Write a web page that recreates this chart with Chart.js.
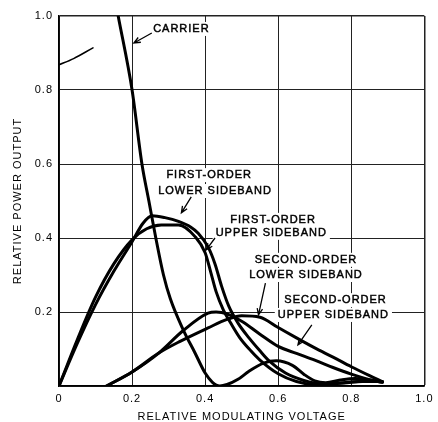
<!DOCTYPE html>
<html>
<head>
<meta charset="utf-8">
<script src="https://cdn.jsdelivr.net/npm/chart.js@4.4.0/dist/chart.umd.min.js"></script>
<style>
  html, body { margin: 0; padding: 0; background: #fff; }
  canvas { display: block; }
</style>
</head>
<body>
<canvas id="grafico" width="438" height="422"></canvas>
<script>
// valores: x = voltaje de modulacion relativo, y = potencia relativa
const carrierX = [0.162, 0.2, 0.227, 0.246, 0.265, 0.286, 0.305, 0.34, 0.372, 0.4, 0.42, 0.44, 0.46, 0.49, 0.52, 0.56, 0.595, 0.64, 0.67, 0.7, 0.73, 0.77, 0.81, 0.85, 0.885];
const carrierY = [1.0, 0.8, 0.6, 0.5, 0.4, 0.3, 0.235, 0.152, 0.09, 0.035, 0.01, 0.0, 0.004, 0.018, 0.04, 0.062, 0.068, 0.055, 0.032, 0.014, 0.009, 0.016, 0.02, 0.016, 0.01];

const firstLowerX = [0, 0.05, 0.1, 0.15, 0.2, 0.23, 0.255, 0.29, 0.327, 0.36, 0.381, 0.408, 0.427, 0.445, 0.465, 0.49, 0.52, 0.55, 0.575, 0.62, 0.67, 0.72, 0.78, 0.83, 0.885];
const firstLowerY = [0, 0.115, 0.22, 0.31, 0.39, 0.44, 0.46, 0.455, 0.445, 0.43, 0.413, 0.376, 0.33, 0.27, 0.215, 0.17, 0.13, 0.095, 0.068, 0.035, 0.015, 0.006, 0.008, 0.012, 0.012];

const firstUpperX = [0, 0.05, 0.1, 0.15, 0.2, 0.24, 0.28, 0.327, 0.373, 0.4, 0.416, 0.43, 0.45, 0.47, 0.495, 0.525, 0.55, 0.6, 0.65, 0.7, 0.75, 0.82, 0.885];
const firstUpperY = [0, 0.125, 0.24, 0.33, 0.395, 0.425, 0.435, 0.435, 0.403, 0.36, 0.305, 0.255, 0.205, 0.17, 0.13, 0.095, 0.07, 0.033, 0.012, 0.004, 0.006, 0.012, 0.012];

const secondLowerX = [0.13, 0.2, 0.273, 0.33, 0.408, 0.46, 0.5, 0.55, 0.6, 0.65, 0.7, 0.75, 0.8, 0.85, 0.885];
const secondLowerY = [0, 0.038, 0.089, 0.12, 0.157, 0.18, 0.19, 0.186, 0.158, 0.13, 0.103, 0.078, 0.052, 0.028, 0.012];

const secondUpperX = [0.13, 0.2, 0.273, 0.34, 0.408, 0.43, 0.46, 0.5, 0.55, 0.6, 0.65, 0.7, 0.75, 0.8, 0.85, 0.885];
const secondUpperY = [0, 0.038, 0.089, 0.15, 0.197, 0.2, 0.195, 0.175, 0.14, 0.107, 0.088, 0.07, 0.05, 0.032, 0.017, 0.01];

// trazo suelto arriba a la izquierda
const strayX = [0, 0.04, 0.093];
const strayY = [0.868, 0.885, 0.914];

const xTicks = [0, 0.2, 0.4, 0.6, 0.8, 1.0];
const yTicks = [0, 0.2, 0.4, 0.6, 0.8, 1.0];

const fuente = '"Liberation Sans", Arial, sans-serif';

// textos y flechas (en coordenadas de datos)
const textos = [
    { t: 'CARRIER', x: 0.335, y: 0.965 },
    { t: 'FIRST-ORDER', x: 0.411, y: 0.570 },
    { t: 'LOWER SIDEBAND', x: 0.427, y: 0.527 },
    { t: 'FIRST-ORDER', x: 0.586, y: 0.449 },
    { t: 'UPPER SIDEBAND', x: 0.581, y: 0.414 },
    { t: 'SECOND-ORDER', x: 0.676, y: 0.341 },
    { t: 'LOWER SIDEBAND', x: 0.676, y: 0.300 },
    { t: 'SECOND-ORDER', x: 0.757, y: 0.232 },
    { t: 'UPPER SIDEBAND', x: 0.751, y: 0.192 }
];
const flechas = [
    { de: [0.254, 0.954], a: [0.205, 0.927] },
    { de: [0.362, 0.511], a: [0.335, 0.468] },
    { de: [0.427, 0.400], a: [0.403, 0.368] },
    { de: [0.565, 0.278], a: [0.546, 0.192] },
    { de: [0.692, 0.165], a: [0.654, 0.111] }
];

function puntos(xs, ys) {
    return xs.map((x, i) => ({ x: x, y: ys[i] }));
}

function serie(xs, ys, ancho) {
    return {
        data: puntos(xs, ys),
        borderColor: '#000',
        borderWidth: ancho,
        pointRadius: 0,
        cubicInterpolationMode: 'monotone',
        borderCapStyle: 'round',
        borderJoinStyle: 'round',
        fill: false
    };
}

const anotaciones = {
    id: 'anotaciones',
    beforeDraw(chart) {
        chart.ctx.letterSpacing = '1px';
    },
    beforeDatasetsDraw(chart) {
        const ctx = chart.ctx;
        const sx = chart.scales.x;
        const sy = chart.scales.y;
        ctx.save();
        ctx.letterSpacing = '1px';
        ctx.font = '11px ' + fuente;
        ctx.textAlign = 'center';
        ctx.textBaseline = 'middle';
        textos.forEach(item => {
            const px = sx.getPixelForValue(item.x);
            const py = sy.getPixelForValue(item.y);
            const w = ctx.measureText(item.t).width;
            ctx.fillStyle = '#fff';
            ctx.fillRect(px - w / 2 - 3, py - 7, w + 6, 14);
            ctx.fillStyle = '#000';
            ctx.strokeStyle = '#000';
            ctx.lineWidth = 0.45;
            ctx.fillText(item.t, px, py);
            ctx.strokeText(item.t, px, py);
        });
        ctx.strokeStyle = '#000';
        ctx.lineWidth = 1.3;
        flechas.forEach(f => {
            const x1 = sx.getPixelForValue(f.de[0]);
            const y1 = sy.getPixelForValue(f.de[1]);
            const x2 = sx.getPixelForValue(f.a[0]);
            const y2 = sy.getPixelForValue(f.a[1]);
            const ang = Math.atan2(y2 - y1, x2 - x1);
            ctx.beginPath();
            ctx.moveTo(x1, y1);
            ctx.lineTo(x2, y2);
            ctx.moveTo(x2 - 7 * Math.cos(ang - 0.4), y2 - 7 * Math.sin(ang - 0.4));
            ctx.lineTo(x2, y2);
            ctx.lineTo(x2 - 7 * Math.cos(ang + 0.4), y2 - 7 * Math.sin(ang + 0.4));
            ctx.stroke();
        });
        ctx.restore();
    }
};

const grid = {
    color: '#222',
    lineWidth: c => (c.tick && c.tick.value === 1) ? 1.5 : 1,
    drawTicks: false
};

const ctx = document.getElementById('grafico').getContext('2d');
new Chart(ctx, {
    type: 'line',
    data: {
        datasets: [
            serie(carrierX, carrierY, 3),
            serie(firstLowerX, firstLowerY, 3),
            serie(firstUpperX, firstUpperY, 3),
            serie(secondLowerX, secondLowerY, 3),
            serie(secondUpperX, secondUpperY, 3),
            serie(strayX, strayY, 1.5)
        ]
    },
    options: {
        responsive: false,
        animation: false,
        layout: { padding: { left: 0, right: 9, top: 16, bottom: 0 }, autoPadding: false },
        plugins: { legend: { display: false }, tooltip: { enabled: false } },
        scales: {
            x: {
                type: 'linear',
                min: 0,
                max: 1,
                afterFit: s => { s.height = 36; },
                afterBuildTicks: s => { s.ticks = xTicks.map(v => ({ value: v })); },
                grid: grid,
                border: { display: true, color: '#000', width: 1.5 },
                ticks: {
                    color: '#000',
                    padding: 6,
                    maxRotation: 0,
                    font: { family: fuente, size: 11 },
                    callback: v => v === 0 ? '0' : v.toFixed(1)
                },
                title: {
                    display: true,
                    text: 'RELATIVE MODULATING VOLTAGE',
                    color: '#000',
                    padding: { top: 0, bottom: 0 },
                    font: { family: fuente, size: 11, lineHeight: 1 }
                }
            },
            y: {
                type: 'linear',
                min: 0,
                max: 1,
                afterFit: s => { s.width = 59; },
                afterBuildTicks: s => { s.ticks = yTicks.map(v => ({ value: v })); },
                grid: grid,
                border: { display: true, color: '#000', width: 1.5 },
                ticks: {
                    color: '#000',
                    padding: 6,
                    font: { family: fuente, size: 11 },
                    callback: v => v === 0 ? '' : v.toFixed(1)
                },
                title: {
                    display: true,
                    text: 'RELATIVE POWER OUTPUT',
                    color: '#000',
                    padding: { top: 12, bottom: 0 },
                    font: { family: fuente, size: 11, lineHeight: 1 }
                }
            }
        }
    },
    plugins: [anotaciones]
});
</script>
</body>
</html>
